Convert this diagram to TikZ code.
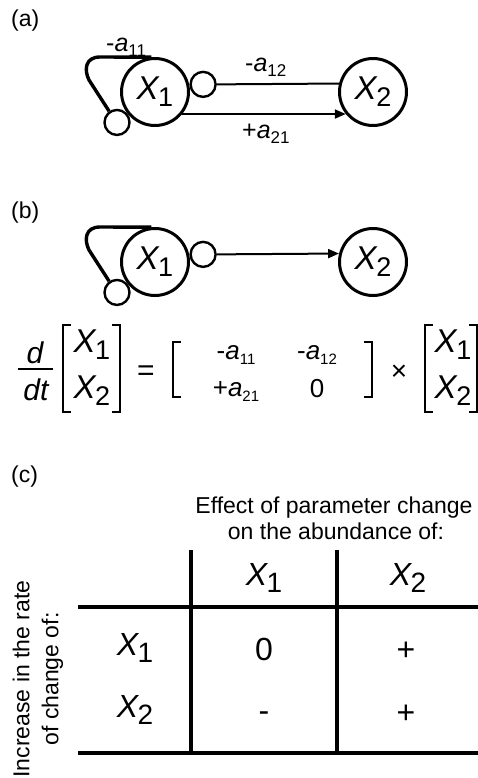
\documentclass[tikz,border=0pt]{standalone}
\usepackage{fontspec}
\setmainfont{Liberation Sans}
\usetikzlibrary{arrows.meta,positioning}

% X with an upright subscript, and a coefficient a_ij with its sign
\newcommand{\vx}[2]{{\itshape X}\kern-0.5pt\raisebox{-0.22em}{\fontsize{#2}{#2}\selectfont #1}}
\newcommand{\ax}[3]{#1{\itshape a}\raisebox{-0.2em}{\fontsize{#3}{#3}\selectfont #2}}

\begin{document}
\begin{tikzpicture}[
    x=1pt, y=-1pt,
    panel/.style={font=\fontsize{23}{23}\selectfont, anchor=base west, inner sep=0pt},
    species/.style={circle, draw, line width=3pt, minimum size=67pt, inner sep=0pt, font=\fontsize{33}{33}\selectfont},
    knob/.style={circle, draw, line width=2.4pt, minimum size=25pt, inner sep=0pt},
    coef/.style={font=\fontsize{25}{25}\selectfont, anchor=base west, inner sep=0pt},
    entry/.style={font=\fontsize{26}{26}\selectfont, anchor=base, inner sep=0pt},
    eqn/.style={font=\fontsize{33}{33}\selectfont, anchor=base, inner sep=0pt},
    cell/.style={font=\fontsize{32}{32}\selectfont, anchor=base, inner sep=0pt},
    caption/.style={font=\fontsize{23}{23}\selectfont, anchor=base, inner sep=0pt},
    inhib/.style={line width=2pt},
    act/.style={line width=2pt, -{Triangle[length=11pt,width=9pt]}},
    selfloop/.style={line width=3.4pt, line join=round},
    brack/.style={line width=2.4pt},
    rule/.style={line width=4.5pt}
]
\useasboundingbox (0,0) rectangle (478,778);

% (a)
\node[panel] (pa) at (11,27) {(a)};
\node[species] (x1a) at (155,92) {\vx{1}{27}};
\node[species] (x2a) at (373,92) {\vx{2}{27}};
\node[knob, anchor=189.3] (ka) at (x1a.9.3) {};
\node[knob, anchor=38.5] (ka2) at (x1a.-141.5) {};
\node[coef] (a11) at (106,52) {\ax{-}{11}{17}};
\node[coef] (a12) at (245,72) {\ax{-}{12}{17}};
\node[coef] (a21) at (242,139) {\ax{+}{21}{17}};
\draw[selfloop] (x1a.96) -- (100,57) .. controls (85,57) and (84,70) .. (89,80) -- (ka2.125);
\draw[inhib] (ka.east) -- (x2a.166.8);
\draw[act] (x1a.-39) -- (x2a.-141);

% (b)
\node[panel] (pb) at (11,218) {(b)};
\node[species] (x1b) at (155,262) {\vx{1}{27}};
\node[species] (x2b) at (373,262) {\vx{2}{27}};
\node[knob, anchor=189.3] (kb) at (x1b.9.3) {};
\node[knob, anchor=38.5] (kb2) at (x1b.-141.5) {};
\draw[selfloop] (x1b.96) -- (100,227) .. controls (85,227) and (84,240) .. (89,250) -- (kb2.125);
\draw[act] (kb.east) -- (x2b.166.8);

% equation
\node[eqn, font=\fontsize{30}{30}\selectfont\itshape] (dnum) at (35,363) {d};
\node[eqn, font=\fontsize{30}{30}\selectfont\itshape] (dden) at (36,400) {dt};
\draw[brack] (18,369) -- (53,369);
\node[eqn] (v1) at (92,352) {\vx{1}{27}};
\node[eqn] (v2) at (92,398) {\vx{2}{27}};
\node[eqn, font=\fontsize{30}{30}\selectfont] (eq) at (146,380) {=};
\node[entry] (m11) at (236,359) {\ax{-}{11}{15}};
\node[entry] (m12) at (317,359) {\ax{-}{12}{15}};
\node[entry] (m21) at (236,396) {\ax{+}{21}{15}};
\node[entry] (m22) at (317,397) {0};
\node[eqn, font=\fontsize{28}{28}\selectfont] (times) at (399,380) {×};
\node[eqn] (w1) at (453,352) {\vx{1}{27}};
\node[eqn] (w2) at (453,398) {\vx{2}{27}};
\foreach \xl/\xr/\yt/\yb in {63/120/325/412, 173/372/342/397, 425/477/325/412} {
  \draw[brack] (\xl+8,\yt) -- (\xl,\yt) -- (\xl,\yb) -- (\xl+8,\yb);
  \draw[brack] (\xr-8,\yt) -- (\xr,\yt) -- (\xr,\yb) -- (\xr-8,\yb);
}

% (c)
\node[panel] (pc) at (11,482) {(c)};
\node[caption] (eff1) at (334,513) {Effect of parameter change};
\node[caption] (eff2) at (336,539) {on the abundance of:};
\node[caption, rotate=90, align=center, font=\fontsize{23}{29}\selectfont, anchor=center] (incr) at (38,679) {Increase in the rate\\of change of:};
\node[cell] (h1) at (264,585) {\vx{1}{28}};
\node[cell] (h2) at (408,585) {\vx{2}{28}};
\node[cell] (r1) at (135,655) {\vx{1}{28}};
\node[cell] (r2) at (135,717) {\vx{2}{28}};
\node[cell] (c11) at (264,660) {0};
\node[cell] (c12) at (406,660) {+};
\node[cell] (c21) at (264,721) {-};
\node[cell] (c22) at (406,723) {+};
\draw[rule] (78,607) -- (478,607);
\draw[rule] (78,753) -- (478,753);
\draw[rule] (191,550) -- (191,755);
\draw[rule] (337,550) -- (337,755);
\end{tikzpicture}
\end{document}
